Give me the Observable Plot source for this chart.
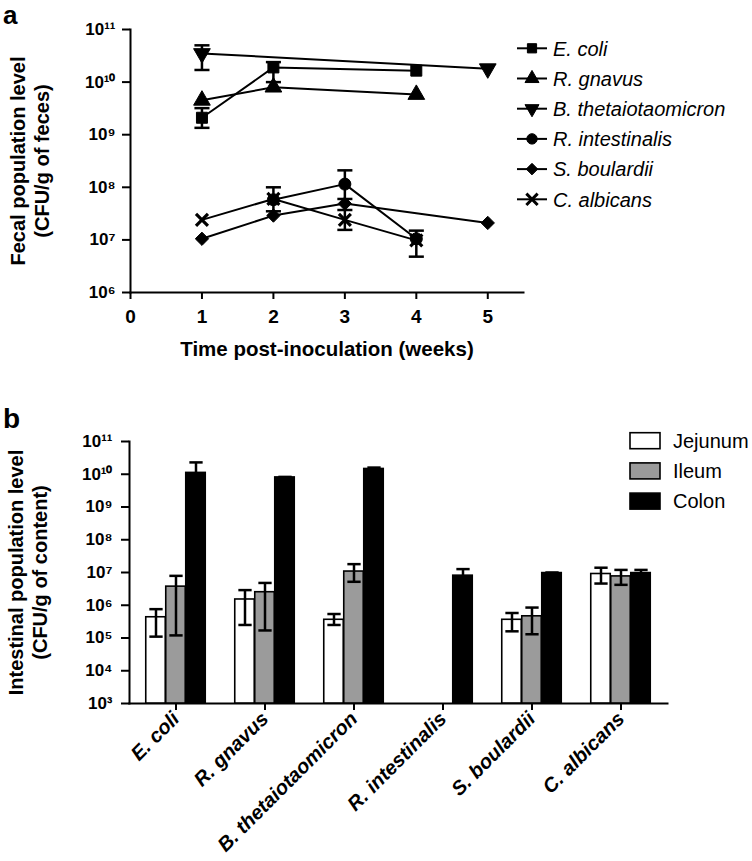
<!DOCTYPE html>
<html><head><meta charset="utf-8">
<script src="https://cdn.jsdelivr.net/npm/d3@7"></script>
<script src="https://cdn.jsdelivr.net/npm/@observablehq/plot@0.6"></script>
<style>
body{margin:0;background:#fff;}
#wrap{position:relative;width:752px;height:861px;background:#fff;}
#wrap svg{display:block;}
</style></head><body><div id="wrap"></div>
<script>
// ---------- Panel a data ----------
const weeks = [1, 2, 3, 4, 5];
const speciesA = ["E. coli", "R. gnavus", "B. thetaiotaomicron", "R. intestinalis", "S. boulardii", "C. albicans"];
const eColiFecal   = [2.1e9, 1.9e10, null, 1.65e10, null];
const rGnavusFecal = [4.5e9, 8.0e9, null, 5.8e9, null];
const bThetaFecal  = [3.5e10, null, null, null, 1.8e10];
const rIntestFecal = [null, 5.8e7, 1.15e8, 1.05e7, null];
const sBoulFecal   = [1.05e7, 2.9e7, 4.9e7, null, 2.1e7];
const cAlbFecal    = [2.4e7, 6.0e7, 2.4e7, 9.8e6, null];
const eColiLo   = [1.35e9, 1.0e10, null, null, null];
const eColiHi   = [3.2e9, 2.4e10, null, null, null];
const bThetaLo  = [1.7e10, null, null, null, null];
const bThetaHi  = [5.0e10, null, null, null, null];
const rIntestLo = [null, 3.5e7, 6.0e7, 4.8e6, null];
const rIntestHi = [null, 1.0e8, 2.1e8, 1.5e7, null];
const cAlbLo    = [null, null, 1.55e7, null, null];
const cAlbHi    = [null, null, 3.7e7, null, null];
const noErr     = [null, null, null, null, null];
const yTicksA = [1e6, 1e7, 1e8, 1e9, 1e10, 1e11];
const xTicksA = [0, 1, 2, 3, 4, 5];

// ---------- Panel b data ----------
const categories = ["E. coli", "R. gnavus", "B. thetaiotaomicron", "R. intestinalis", "S. boulardii", "C. albicans"];
const regions = ["Jejunum", "Ileum", "Colon"];
const jejunum   = [4.3e5, 1.5e6, 3.6e5, null, 3.6e5, 9.0e6];
const jejunumLo = [1.1e5, 2.5e5, 2.5e5, null, 1.6e5, 4.6e6];
const jejunumHi = [7.6e5, 2.9e6, 5.4e5, null, 5.8e5, 1.4e7];
const ileum     = [3.7e6, 2.5e6, 1.07e7, null, 4.6e5, 7.6e6];
const ileumLo   = [1.2e5, 1.7e5, 5.2e6, null, 1.3e5, 4.2e6];
const ileumHi   = [7.9e6, 4.8e6, 1.8e7, null, 8.5e5, 1.2e7];
const colon     = [1.1e10, 8.0e9, 1.45e10, 8.0e6, 9.6e6, 9.6e6];
const colonLo   = [5.0e9, 7.7e9, 1.3e10, 5.0e6, 9.2e6, 7.7e6];
const colonHi   = [2.3e10, 8.3e9, 1.6e10, 1.27e7, 1.0e7, 1.2e7];
const yTicksB = [1e3, 1e4, 1e5, 1e6, 1e7, 1e8, 1e9, 1e10, 1e11];

// ---------- helpers ----------
const FONT = '"Liberation Sans", Arial, sans-serif';
const sup = {"0":"⁰","1":"¹","2":"²","3":"³","4":"⁴","5":"⁵","6":"⁶","7":"⁷","8":"⁸","9":"⁹"};
const fmtPow = d => "10" + String(Math.round(Math.log10(d))).split("").map(c => sup[c]).join("");
const triangleDown = {draw(ctx, size) {
  const s3 = Math.sqrt(3);
  const y = -Math.sqrt(size / (s3 * 3));
  ctx.moveTo(0, -y * 2); ctx.lineTo(-s3 * y, y); ctx.lineTo(s3 * y, y); ctx.closePath();
}};
const capSym = {draw(ctx, size) {
  const w = Math.sqrt(size) / 2;
  ctx.moveTo(-w, 0); ctx.lineTo(w, 0);
}};
const symbolsA = [d3.symbolSquare, d3.symbolTriangle, triangleDown, d3.symbolCircle, d3.symbolDiamond2, d3.symbolTimes];
const rA = [6.2, 6.2, 6.2, 6.0, 6.0, 5.5];

// ---------- Panel a ----------
const valuesA = [eColiFecal, rGnavusFecal, bThetaFecal, rIntestFecal, sBoulFecal, cAlbFecal];
const losA = [eColiLo, noErr, bThetaLo, rIntestLo, noErr, cAlbLo];
const hisA = [eColiHi, noErr, bThetaHi, rIntestHi, noErr, cAlbHi];
const rowsA = [];
speciesA.forEach((s, i) => weeks.forEach((w, j) => {
  if (valuesA[i][j] != null) rowsA.push({species: s, idx: i, week: w, value: valuesA[i][j], lo: losA[i][j], hi: hisA[i][j]});
}));
const errA = rowsA.filter(d => d.lo != null);

const marksA = [
  Plot.frame({anchor: "left", strokeWidth: 2}),
  Plot.frame({anchor: "bottom", strokeWidth: 2}),
  Plot.axisY({ticks: yTicksA, tickFormat: fmtPow, tickSize: 8, tickPadding: 7, fontSize: 17, fontWeight: "bold", strokeWidth: 2, label: null}),
  Plot.axisX({ticks: xTicksA, tickFormat: d => String(d), tickSize: 7, tickPadding: 10, fontSize: 19, fontWeight: "bold", strokeWidth: 2, label: null}),
  Plot.text(["Fecal population level\n(CFU/g of feces)"], {frameAnchor: "left", textAnchor: "middle", rotate: -90, dx: -101, fontSize: 20, fontWeight: "bold", lineHeight: 1.2}),
  Plot.text(["Time post-inoculation (weeks)"], {frameAnchor: "bottom", textAnchor: "middle", dy: 63, fontSize: 20.5, fontWeight: "bold"}),
  Plot.ruleX(errA, {x: "week", y1: "lo", y2: "hi", stroke: "black", strokeWidth: 2.5}),
  Plot.dot(errA, {x: "week", y: "lo", symbol: capSym, r: 8.5, stroke: "black", fill: "none", strokeWidth: 2.5}),
  Plot.dot(errA, {x: "week", y: "hi", symbol: capSym, r: 8.5, stroke: "black", fill: "none", strokeWidth: 2.5}),
  Plot.line(rowsA, {x: "week", y: "value", z: "species", stroke: "black", strokeWidth: 2})
];
speciesA.forEach((s, i) => {
  marksA.push(Plot.dot(rowsA.filter(d => d.species === s), {
    x: "week", y: "value", symbol: symbolsA[i], r: rA[i],
    fill: "black", stroke: "black", strokeWidth: i === 5 ? 3.2 : 1
  }));
});

const plotA = Plot.plot({
  width: 752, height: 400,
  marginLeft: 130, marginRight: 229, marginTop: 29, marginBottom: 108,
  style: {fontFamily: FONT, color: "black", background: "white", overflow: "visible"},
  x: {domain: [0, 5.5]},
  y: {type: "log", domain: [1e6, 1e11]},
  marks: marksA
});

// ---------- Panel b ----------
const valsB = [jejunum, ileum, colon];
const losB = [jejunumLo, ileumLo, colonLo];
const hisB = [jejunumHi, ileumHi, colonHi];
const fillsB = ["white", "#9b9b9b", "black"];
const offsetsB = [-20, 0, 20];
const marksB = [
  Plot.frame({anchor: "left", strokeWidth: 2}),
  Plot.frame({anchor: "bottom", strokeWidth: 2}),
  Plot.axisY({ticks: yTicksB, tickFormat: fmtPow, tickSize: 8, tickPadding: 9, fontSize: 17, fontWeight: "bold", strokeWidth: 2, label: null}),
  Plot.axisX({tickRotate: -45, tickSize: 7, tickPadding: 5, fontSize: 20, fontWeight: "bold", fontStyle: "italic", strokeWidth: 2, label: null}),
  Plot.text(["Intestinal population level\n(CFU/g of content)"], {frameAnchor: "left", textAnchor: "middle", rotate: -90, dx: -102, fontSize: 20, fontWeight: "bold", lineHeight: 1.2})
];
regions.forEach((r, k) => {
  const rows = [];
  categories.forEach((c, i) => {
    if (valsB[k][i] != null) rows.push({category: c, region: r, value: valsB[k][i], lo: losB[k][i], hi: hisB[k][i]});
  });
  marksB.push(Plot.barY(rows, {x: "category", y1: 1e3, y2: "value", fill: fillsB[k], stroke: "black", strokeWidth: 1.6, insetLeft: 34.75, insetRight: 34.75, dx: offsetsB[k]}));
  marksB.push(Plot.ruleX(rows, {x: "category", y1: "lo", y2: "hi", dx: offsetsB[k], stroke: "black", strokeWidth: 2.5}));
  marksB.push(Plot.dot(rows, {x: "category", y: "lo", dx: offsetsB[k], symbol: capSym, r: 7.5, stroke: "black", fill: "none", strokeWidth: 2.5}));
  marksB.push(Plot.dot(rows, {x: "category", y: "hi", dx: offsetsB[k], symbol: capSym, r: 7.5, stroke: "black", fill: "none", strokeWidth: 2.5}));
});

const plotB = Plot.plot({
  width: 752, height: 461,
  marginLeft: 129, marginRight: 85, marginTop: 41, marginBottom: 158,
  style: {fontFamily: FONT, color: "black", background: "white", overflow: "visible"},
  x: {domain: categories, padding: 0},
  y: {type: "log", domain: [1e3, 1e11]},
  marks: marksB
});

const wrap = document.getElementById("wrap");
wrap.appendChild(plotA);
wrap.appendChild(plotB);

// ---------- Legends & panel letters ----------
const sa = d3.select(plotA);
sa.append("text").attr("x", 3).attr("y", 24).attr("text-anchor", "start").attr("font-family", FONT)
  .attr("font-size", 26).attr("font-weight", "bold").text("a");
const legA = sa.append("g").attr("text-anchor", "start");
speciesA.forEach((s, i) => {
  const y = 48.3 + 30.2 * i;
  legA.append("line").attr("x1", 517).attr("x2", 547).attr("y1", y).attr("y2", y).attr("stroke", "black").attr("stroke-width", 2);
  legA.append("path").attr("transform", `translate(532,${y})`)
    .attr("d", d3.symbol(symbolsA[i], Math.PI * 5.2 * 5.2)())
    .attr("fill", "black").attr("stroke", "black").attr("stroke-width", i === 5 ? 3 : 1);
  legA.append("text").attr("x", 553).attr("y", y).attr("dy", "0.36em").attr("font-family", FONT)
    .attr("text-anchor", "start").attr("font-size", 20).attr("font-style", "italic").text(s);
});

const sb = d3.select(plotB);
sb.append("text").attr("x", 3).attr("y", 28).attr("text-anchor", "start").attr("font-family", FONT)
  .attr("font-size", 28).attr("font-weight", "bold").text("b");
const legB = sb.append("g").attr("text-anchor", "start");
regions.forEach((r, k) => {
  const y = 40.7 + 30.2 * k;
  legB.append("rect").attr("x", 630).attr("y", y - 8).attr("width", 30).attr("height", 16)
    .attr("fill", fillsB[k]).attr("stroke", "black").attr("stroke-width", 1.6);
  legB.append("text").attr("x", 673).attr("y", y).attr("dy", "0.36em").attr("font-family", FONT)
    .attr("text-anchor", "start").attr("font-size", 20).text(r);
});
</script></body></html>
